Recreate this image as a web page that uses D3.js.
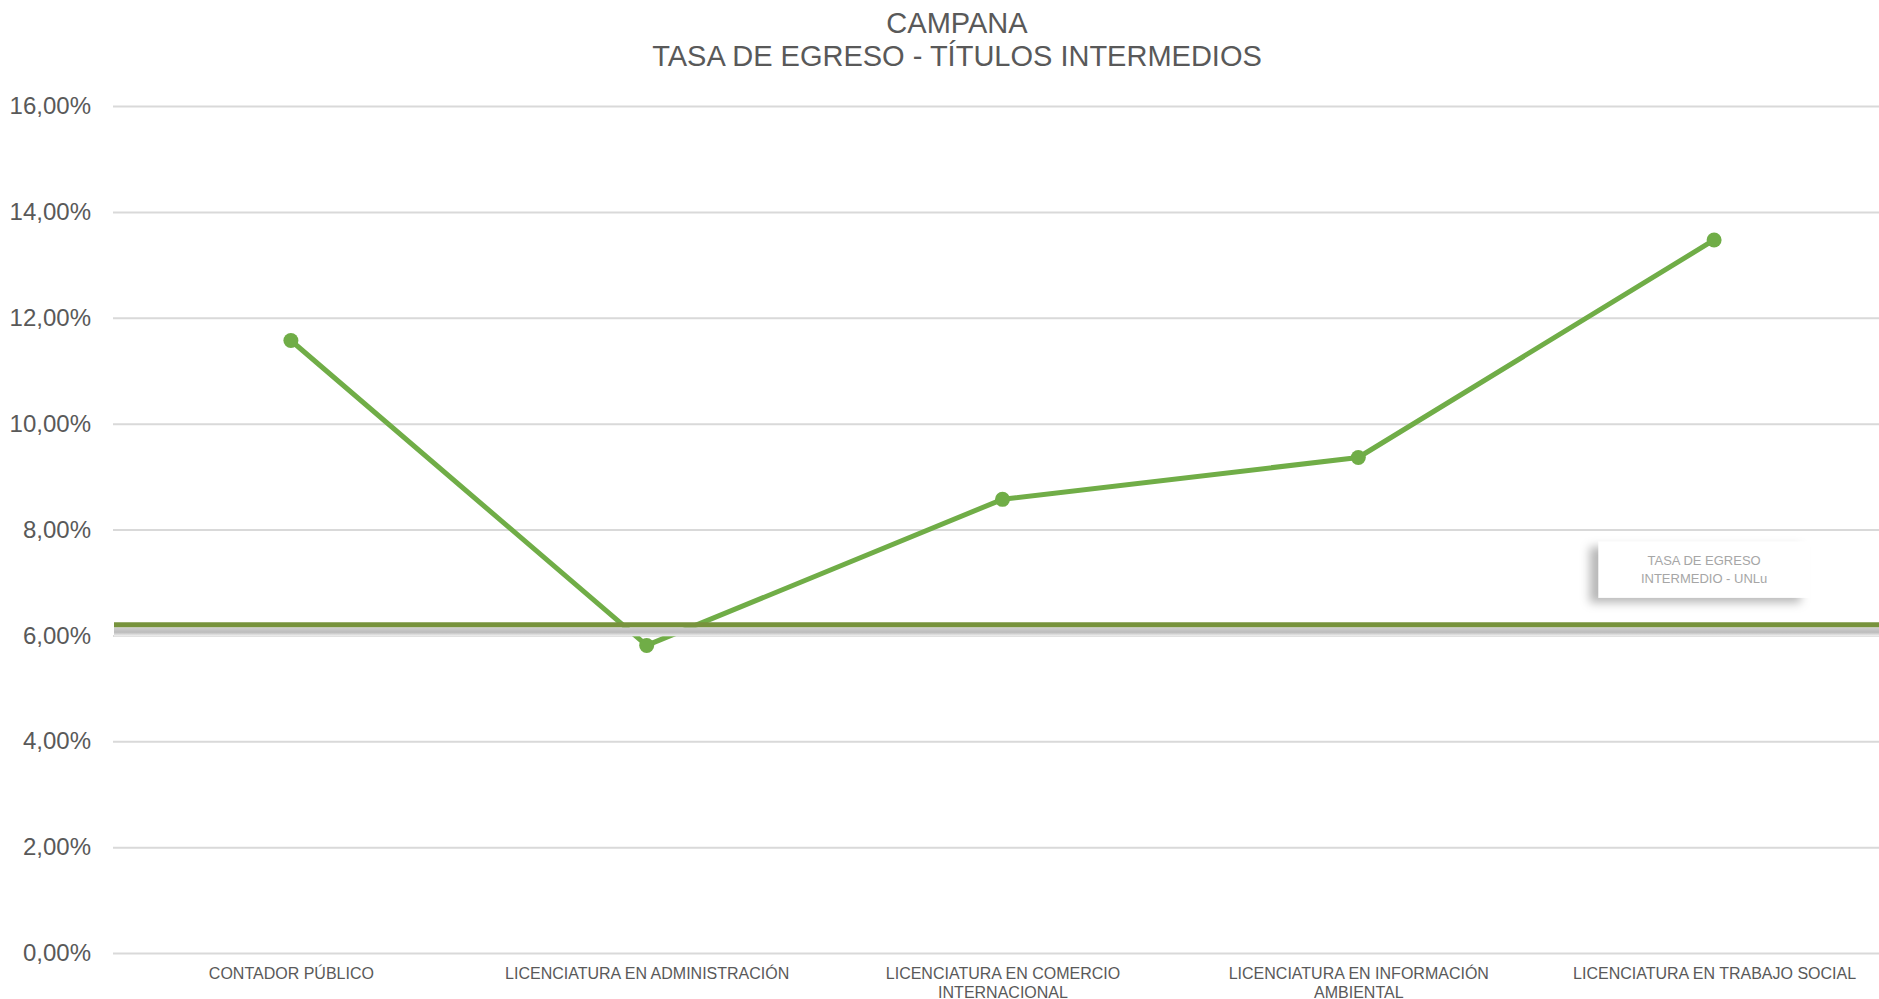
<!DOCTYPE html>
<html>
<head>
<meta charset="utf-8">
<script src="https://cdn.jsdelivr.net/npm/d3@7"></script>
<style>
  html, body { margin: 0; padding: 0; background: #ffffff; }
  svg { display: block; font-family: "Liberation Sans", Arial, sans-serif; }
</style>
</head>
<body>
<svg id="chart" width="1879" height="999"></svg>
<script>
// ---- data ----
const titleLines = ["CAMPANA", "TASA DE EGRESO - TÍTULOS INTERMEDIOS"];
const categories = [
  "CONTADOR PÚBLICO",
  "LICENCIATURA EN ADMINISTRACIÓN",
  "LICENCIATURA EN COMERCIO INTERNACIONAL",
  "LICENCIATURA EN INFORMACIÓN AMBIENTAL",
  "LICENCIATURA EN TRABAJO SOCIAL"
];
const values = [0.1157, 0.0581, 0.0857, 0.0936, 0.1347];
const yTicks = [0, 0.02, 0.04, 0.06, 0.08, 0.10, 0.12, 0.14, 0.16];
const referenceValue = 0.062;
const referenceLabel = ["TASA DE EGRESO", "INTERMEDIO - UNLu"];

// ---- layout ----
const W = 1879, H = 999;
const svg = d3.select("#chart");
const plotLeft = 113, plotRight = 1892, plotTop = 106, plotBottom = 953;

const locale = d3.formatLocale({decimal: ",", thousands: ".", grouping: [3], currency: ["$", ""]});
const fmt = locale.format(".2%");

const x = d3.scalePoint().domain(categories).range([plotLeft, plotRight]).padding(0.5);
const y = d3.scaleLinear().domain([0, 0.16]).range([plotBottom, plotTop]);

const defs = svg.append("defs");
const grad = defs.append("linearGradient").attr("id", "refShadow")
  .attr("x1", 0).attr("y1", 0).attr("x2", 0).attr("y2", 1);
grad.append("stop").attr("offset", "0%").attr("stop-color", "#d0d0d0");
grad.append("stop").attr("offset", "55%").attr("stop-color", "#bcbcbc");
grad.append("stop").attr("offset", "100%").attr("stop-color", "#f4f4f4");

const f = defs.append("filter").attr("id", "boxShadow")
  .attr("x", "-20%").attr("y", "-40%").attr("width", "140%").attr("height", "200%");
f.append("feDropShadow").attr("dx", -9).attr("dy", 5).attr("stdDeviation", 5)
  .attr("flood-color", "#000").attr("flood-opacity", 0.28);

// title
svg.append("g").selectAll("text").data(titleLines).join("text")
  .attr("x", 957).attr("y", (d, i) => 33 + i * 33)
  .attr("text-anchor", "middle")
  .attr("font-size", 29).attr("fill", "#595959")
  .text(d => d);

// y axis (gridlines + labels)
const yAxis = d3.axisLeft(y).tickValues(yTicks).tickFormat(fmt)
  .tickSize(-(W - plotLeft)).tickPadding(22);
const gy = svg.append("g").attr("transform", `translate(${plotLeft},0)`).call(yAxis);
gy.select(".domain").remove();
gy.selectAll(".tick line").attr("stroke", "#d9d9d9").attr("stroke-width", 2);
gy.selectAll(".tick text").attr("fill", "#595959").attr("font-size", 24)
  .attr("font-family", "'Liberation Sans', Arial, sans-serif");

// x axis labels
const xAxis = d3.axisBottom(x).tickSize(0).tickPadding(0);
const gx = svg.append("g").attr("transform", `translate(0,${plotBottom})`).call(xAxis);
gx.select(".domain").remove();
gx.selectAll(".tick text")
  .attr("fill", "#595959").attr("font-size", 16)
  .attr("font-family", "'Liberation Sans', Arial, sans-serif")
  .attr("y", 26).attr("dy", 0)
  .each(function(d) {
    const t = d3.select(this);
    const words = d.split(" ");
    t.text(null);
    let line = [], lineNo = 0;
    let tspan = t.append("tspan").attr("x", 0).attr("y", 26);
    for (const w of words) {
      line.push(w);
      tspan.text(line.join(" "));
      if (tspan.node().getComputedTextLength() > 330 && line.length > 1) {
        line.pop();
        tspan.text(line.join(" "));
        line = [w];
        lineNo++;
        tspan = t.append("tspan").attr("x", 0).attr("y", 26 + lineNo * 19).text(w);
      }
    }
  });

// series line
const lineGen = d3.line().x((d, i) => x(categories[i])).y(d => y(d));
svg.append("path").datum(values)
  .attr("d", lineGen)
  .attr("fill", "none").attr("stroke", "#70ad47").attr("stroke-width", 5)
  .attr("stroke-linejoin", "round");
svg.append("g").selectAll("circle").data(values).join("circle")
  .attr("cx", (d, i) => x(categories[i])).attr("cy", d => y(d))
  .attr("r", 7.5).attr("fill", "#70ad47");

// reference line with shadow
const refY = y(referenceValue);
svg.append("rect").attr("x", plotLeft + 1).attr("y", refY + 2.5)
  .attr("width", W - plotLeft).attr("height", 9)
  .attr("fill", "url(#refShadow)");
svg.append("line")
  .attr("x1", plotLeft + 1).attr("x2", W)
  .attr("y1", refY).attr("y2", refY)
  .attr("stroke", "#77933c").attr("stroke-width", 5);

// reference label box
const boxCx = x(categories[4]) - 10;
const bw = 211, bh = 56;
const boxTop = refY - 83;
svg.append("rect").attr("x", boxCx - bw / 2).attr("y", boxTop)
  .attr("width", bw).attr("height", bh)
  .attr("fill", "#ffffff").attr("filter", "url(#boxShadow)");
svg.append("g").selectAll("text").data(referenceLabel).join("text")
  .attr("x", boxCx).attr("y", (d, i) => boxTop + 23 + i * 18)
  .attr("text-anchor", "middle").attr("font-size", 13).attr("fill", "#a6a6a6")
  .text(d => d);
</script>
</body>
</html>
